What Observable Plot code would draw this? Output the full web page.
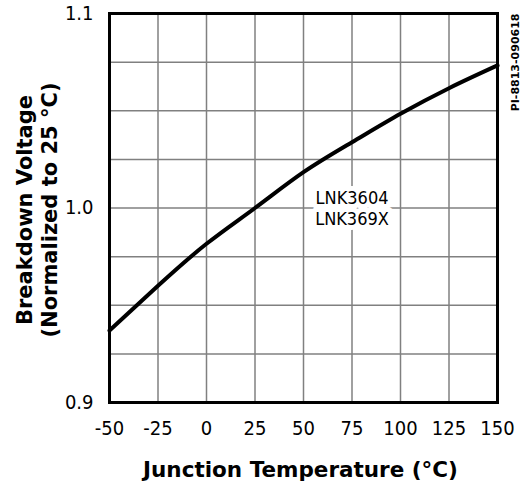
<!DOCTYPE html>
<html>
<head>
<meta charset="utf-8">
<script src="https://cdn.jsdelivr.net/npm/d3@7"></script>
<script src="https://cdn.jsdelivr.net/npm/@observablehq/plot@0.6"></script>
<style>
  html, body { margin: 0; padding: 0; background: #fff; }
  svg { display: block; }
</style>
</head>
<body>
<div id="chart"></div>
<script>
// Junction temperature (°C)
const temps = [-50, -25, 0, 25, 50, 75, 100, 125, 150];
// Breakdown voltage normalized to 25 °C
const voltages = [0.937, 0.960, 0.9816, 1.0, 1.0184, 1.0338, 1.0484, 1.0616, 1.0733];
const xTicks = [-50, -25, 0, 25, 50, 75, 100, 125, 150];
const yTickLabels = [0.9, 1.0, 1.1];
const yGrid = [0.9, 0.925, 0.95, 0.975, 1.0, 1.025, 1.05, 1.075, 1.1];
const xTitle = "Junction Temperature (°C)";
const yTitle = "Breakdown Voltage\n(Normalized to 25 °C)";
const seriesLabel = "LNK3604\nLNK369X";
const seriesLabelAt = {x: 75, y: 1.0};
const docId = "PI-8813-090618";

const data = temps.map((t, i) => ({t, v: voltages[i]}));
const FONT = "'DejaVu Sans Condensed', 'DejaVu Sans', sans-serif";
const BOLD = "'DejaVu Sans', sans-serif";

const chart = Plot.plot({
  width: 524,
  height: 487,
  marginLeft: 109,
  marginRight: 27,
  marginTop: 13,
  marginBottom: 85,
  style: {fontFamily: FONT, fontSize: "20px", background: "#fff", color: "#000", overflow: "visible"},
  x: {domain: [-50, 150]},
  y: {domain: [0.9, 1.1]},
  marks: [
    Plot.gridX(xTicks, {stroke: "#808080", strokeOpacity: 1, strokeWidth: 1.5}),
    Plot.gridY(yGrid, {stroke: "#808080", strokeOpacity: 1, strokeWidth: 1.5}),
    Plot.frame({stroke: "#000", strokeWidth: 3}),
    Plot.axisX(xTicks, {tickSize: 0, tickPadding: 18, fontSize: 20, label: null, tickFormat: d => String(d)}),
    Plot.axisY(yTickLabels, {tickSize: 0, tickPadding: 16, fontSize: 20, label: null, tickFormat: d => d.toFixed(1)}),
    Plot.text([seriesLabel], {x: () => seriesLabelAt.x, y: () => seriesLabelAt.y, text: d => d,
      fontSize: 18, fontFamily: FONT, lineHeight: 1.15, fill: "#000",
      stroke: "#fff", strokeWidth: 10, strokeLinejoin: "round"}),
    Plot.line(data, {x: "t", y: "v", curve: "natural", stroke: "#000", strokeWidth: 4}),
    Plot.text([xTitle], {frameAnchor: "bottom", dx: -3, dy: 74, text: d => d, fontSize: 21.5, fontWeight: "bold", fontFamily: BOLD, fill: "#000"}),
    Plot.text([yTitle], {frameAnchor: "left", dx: -73, dy: 2, rotate: -90, textAnchor: "middle", text: d => d, fontSize: 21, fontWeight: "bold", fontFamily: BOLD, lineHeight: 1.18, fill: "#000"}),
    Plot.text([docId], {frameAnchor: "top-right", dx: 14, rotate: -90, textAnchor: "end", text: d => d, fontSize: 11, fontWeight: "bold", fontFamily: BOLD, fill: "#000"})
  ]
});
document.getElementById("chart").appendChild(chart);
</script>
</body>
</html>
